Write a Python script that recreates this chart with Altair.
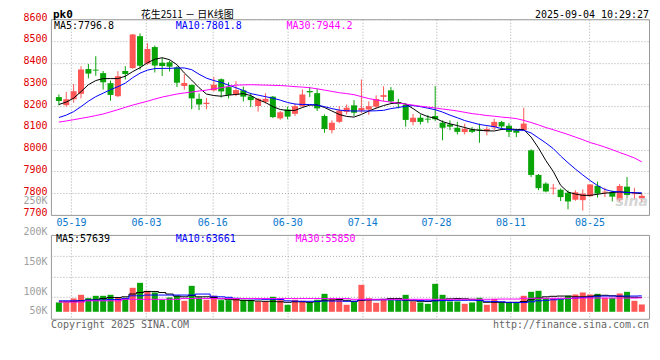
import altair as alt
import pandas as pd

# ---------------- data ----------------
# positions (in trading-day units) where the date grid lines sit in the picture
date_pos = [1.64, 11.8, 20.8, 30.96, 41.1, 51.1, 61.2, 71.9]
date_labels = ["05-19", "06-03", "06-16", "06-30", "07-14", "07-28", "08-11", "08-25"]

opens = [8242, 8205, 8232, 8257, 8371, 8368, 8352, 8306, 8246, 8362,
         8375, 8522, 8396, 8472, 8400, 8402, 8378, 8293, 8298, 8234,
         8210, 8273, 8324, 8288, 8254, 8273, 8245, 8201, 8220, 8244,
         8144, 8185, 8165, 8200, 8270, 8260, 8155, 8090, 8128, 8174,
         8204, 8180, 8185, 8198, 8243, 8273, 8219, 8207, 8127, 8147,
         8142, 8155, 8124, 8116, 8101, 8081, 8093, 8093, 8085, 8103,
         8127, 8110, 8090, 8090, 7997, 7884, 7844, 7822, 7816, 7802,
         7770, 7768, 7786, 7834, 7804, 7804, 7768, 7830, 7796, 7776]
highs = [8254, 8266, 8302, 8384, 8394, 8430, 8362, 8318, 8361, 8384,
         8532, 8535, 8490, 8479, 8422, 8410, 8384, 8348, 8300, 8258,
         8238, 8334, 8328, 8310, 8315, 8290, 8262, 8238, 8260, 8247,
         8178, 8198, 8212, 8277, 8289, 8280, 8162, 8135, 8200, 8208,
         8228, 8323, 8222, 8250, 8292, 8288, 8234, 8213, 8165, 8162,
         8160, 8292, 8135, 8135, 8128, 8120, 8104, 8120, 8107, 8142,
         8132, 8122, 8095, 8193, 8002, 7888, 7850, 7842, 7822, 7813,
         7814, 7818, 7842, 7853, 7825, 7813, 7842, 7874, 7825, 7796]
lows = [8204, 8198, 8216, 8236, 8328, 8340, 8277, 8225, 8242, 8323,
        8372, 8368, 8390, 8355, 8339, 8360, 8288, 8276, 8186, 8182,
        8186, 8268, 8240, 8236, 8246, 8222, 8196, 8175, 8212, 8145,
        8138, 8140, 8155, 8196, 8242, 8178, 8078, 8075, 8122, 8162,
        8155, 8168, 8160, 8190, 8223, 8214, 8190, 8106, 8112, 8116,
        8123, 8132, 8043, 8090, 8070, 8070, 8076, 8032, 8066, 8090,
        8090, 8058, 8058, 8086, 7874, 7814, 7804, 7794, 7764, 7726,
        7765, 7720, 7784, 7780, 7782, 7762, 7764, 7779, 7772, 7758]
closes = [8224, 8232, 8269, 8369, 8350, 8364, 8310, 8252, 8338, 8348,
          8530, 8386, 8463, 8387, 8385, 8382, 8308, 8307, 8236, 8208,
          8216, 8299, 8268, 8252, 8274, 8244, 8228, 8234, 8234, 8150,
          8172, 8152, 8200, 8254, 8264, 8190, 8095, 8124, 8180, 8193,
          8170, 8192, 8200, 8233, 8251, 8222, 8210, 8137, 8147, 8128,
          8139, 8140, 8101, 8106, 8082, 8096, 8082, 8088, 8095, 8128,
          8107, 8082, 8078, 8120, 7884, 7823, 7808, 7824, 7782, 7762,
          7804, 7798, 7840, 7798, 7806, 7784, 7833, 7792, 7799, 7788]
ma5 = [8208, 8219, 8237, 8267, 8299, 8318, 8327, 8327, 8327, 8338,
       8359, 8377, 8400, 8416, 8423, 8414, 8391, 8353, 8320, 8285,
       8256, 8249, 8246, 8251, 8254, 8258, 8249, 8230, 8217, 8198,
       8185, 8180, 8181, 8194, 8205, 8206, 8194, 8178, 8162, 8153,
       8150, 8162, 8178, 8191, 8203, 8212, 8216, 8210, 8189, 8166,
       8152, 8145, 8129, 8119, 8111, 8102, 8093, 8089, 8087, 8086,
       8093, 8095, 8093, 8093, 8058, 8008, 7950, 7900, 7836, 7805,
       7796, 7790, 7790, 7795, 7800, 7803, 7806, 7804, 7802, 7797]
ma10 = [8148, 8159, 8175, 8198, 8223, 8244, 8260, 8276, 8290, 8306,
        8331, 8352, 8366, 8373, 8374, 8374, 8376, 8376, 8368, 8347,
        8329, 8318, 8309, 8297, 8285, 8272, 8258, 8251, 8244, 8237,
        8228, 8217, 8210, 8208, 8208, 8205, 8198, 8189, 8182, 8179,
        8178, 8178, 8178, 8179, 8181, 8189, 8194, 8200, 8203, 8198,
        8191, 8184, 8173, 8159, 8147, 8134, 8125, 8116, 8111, 8106,
        8097, 8093, 8090, 8089, 8077, 8054, 8031, 8005, 7971, 7940,
        7911, 7884, 7858, 7835, 7817, 7808, 7806, 7803, 7802, 7802]
ma30 = [8127, 8132, 8138, 8144, 8150, 8157, 8164, 8174, 8184, 8195,
        8205, 8214, 8223, 8233, 8242, 8249, 8256, 8261, 8265, 8270,
        8274, 8280, 8285, 8291, 8297, 8298, 8299, 8298, 8297, 8296,
        8295, 8293, 8290, 8288, 8285, 8280, 8274, 8268, 8262, 8258,
        8253, 8244, 8235, 8229, 8223, 8219, 8214, 8210, 8205, 8200,
        8196, 8192, 8187, 8183, 8178, 8172, 8166, 8162, 8157, 8154,
        8150, 8147, 8143, 8135, 8125, 8114, 8102, 8092, 8081, 8070,
        8058, 8046, 8033, 8023, 8012, 8000, 7987, 7975, 7962, 7944]
volumes = [37300, 37300, 53300, 68000, 54700, 64000, 64000, 68000, 57300, 56000,
           96000, 116000, 84000, 77300, 48000, 57300, 64000, 44000, 104000, 57300,
           48000, 64000, 46700, 46700, 54700, 48000, 48000, 41300, 41300, 60000,
           46700, 28000, 48000, 44000, 37300, 48000, 72000, 50700, 48000, 28000,
           41300, 108000, 54700, 36000, 50700, 46700, 46700, 68000, 41300, 37300,
           32000, 112000, 68000, 41300, 41300, 32000, 37300, 56000, 28000, 52000,
           37300, 37300, 37300, 64000, 80000, 84000, 54700, 53300, 50700, 64000,
           69300, 77300, 69300, 72000, 56000, 54700, 73300, 80000, 44000, 29300]
vma5 = [40000, 40000, 41000, 44000, 47000, 48000, 53000, 57000, 57000, 60000,
        71000, 77000, 81000, 81000, 77000, 71000, 63000, 60000, 65000, 60000,
        60000, 57000, 52000, 50000, 48000, 46000, 45000, 43000, 42000, 42000,
        40000, 38000, 40000, 40000, 38000, 41000, 46000, 47000, 49000, 46000,
        42000, 46000, 48000, 48000, 50000, 53000, 53000, 47000, 44000, 42000,
        41000, 45000, 48000, 52000, 53000, 52000, 50000, 46000, 38000, 38000,
        38000, 37000, 38000, 41000, 48000, 55000, 60000, 62000, 63000, 63000,
        60000, 60000, 62000, 66000, 66000, 64000, 62000, 59000, 58000, 57639]
vma10 = [44000, 44000, 44000, 44000, 47000, 47000, 47000, 49000, 49000, 53000,
         64000, 64000, 67000, 67000, 67000, 67000, 67000, 67000, 67000, 71000,
         71000, 62000, 60000, 58000, 54000, 53000, 52000, 51000, 50000, 50000,
         49000, 44000, 43000, 42000, 42000, 42000, 43000, 43000, 43000, 42000,
         42000, 48000, 48000, 48000, 48000, 48000, 47000, 47000, 47000, 45000,
         44000, 44000, 45000, 45000, 46000, 46000, 46000, 45000, 42000, 41000,
         40000, 38000, 37000, 37000, 40000, 44000, 46000, 48000, 51000, 53000,
         55000, 57000, 59000, 62000, 63000, 63000, 63000, 63000, 63000, 63661]
vma30 = [39000, 39000, 39000, 39000, 44000, 44000, 44000, 44000, 44000, 50000,
         50000, 50000, 50000, 50000, 50000, 50000, 50000, 53000, 53000, 53000,
         53000, 53000, 53000, 53000, 53000, 53000, 53000, 53000, 53000, 53000,
         53000, 53000, 53000, 53000, 53000, 53000, 53000, 53000, 53000, 53000,
         50000, 50000, 50000, 50000, 50000, 50000, 50000, 50000, 50000, 50000,
         50000, 50000, 50000, 50000, 50000, 50000, 50000, 50000, 50000, 50000,
         51000, 51000, 51000, 54000, 54000, 54000, 54000, 54000, 54000, 54000,
         55000, 55000, 55000, 55000, 55000, 55000, 55000, 55000, 55000, 55850]

price_ticks = [8600, 8500, 8400, 8300, 8200, 8100, 8000, 7900, 7800, 7700]
price_ma_text = ["MA5:7796.8", "MA10:7801.8", "MA30:7944.2"]
vol_ma_text = ["MA5:57639", "MA10:63661", "MA30:55850"]
vol_label_vals = [4000, 82800, 200000, 308000]
vol_label_text = ["50K", "100K", "150K", "200K"]
vol_grid_vals = [59000, 141000, 224000]
stray_label_val = 7755          # the grey "250K" that sits in the price axis
title_code = "pk0"
title_name = "花生2511 －  日K线图"
timestamp = "2025-09-04 10:29:27"
copyright_text = "Copyright 2025 SINA.COM"
url_text = "http://finance.sina.com.cn"

# ---------------- styling ----------------
RED = "#ff5656"
GREEN = "#08a408"
MONO = "DejaVu Sans Mono"
BLUE_LBL = "#0a78cc"
W = 599

df = pd.DataFrame({
    "idx": list(range(len(opens))), "open": opens, "high": highs, "low": lows,
    "close": closes, "vol": volumes, "ma5": ma5, "ma10": ma10, "ma30": ma30,
    "vma5": vma5, "vma10": vma10, "vma30": vma30,
})
df["up"] = df["close"] >= df["open"]
lo = df[["open", "close"]].min(axis=1)
hi = df[["open", "close"]].max(axis=1)
mid = (lo + hi) / 2
thin = (hi - lo) < 4
df["blo"] = lo.where(~thin, mid - 2)
df["bhi"] = hi.where(~thin, mid + 2)

xscale = alt.Scale(domain=[-0.4, 79.3], nice=False, zero=False)
date_expr = "%s[indexof(%s, datum.value)]" % (
    "[" + ",".join("'%s'" % s for s in date_labels) + "]", str(date_pos))
color_cond = alt.condition("datum.up", alt.value(RED), alt.value(GREEN))

x_price_axis = alt.Axis(values=date_pos, labelExpr=date_expr, grid=True, ticks=False,
                        domain=False, labelColor=BLUE_LBL, labelFont=MONO,
                        labelFontSize=10, labelPadding=3, labelOverlap=False)
y_axis_price = alt.Axis(
    values=price_ticks + [stray_label_val],
    labelExpr="datum.value == %d ? '250K' : format(datum.value, 'd')" % stray_label_val,
    labelColor={"condition": {"test": "datum.value == %d" % stray_label_val, "value": "#a0a0a0"},
                "value": "#e00000"},
    gridOpacity={"condition": {"test": "datum.value == %d" % stray_label_val, "value": 0},
                 "value": 1},
    ticks=False, domain=False, labelFont=MONO, labelFontSize=10, labelPadding=4,
    labelOffset=-2, labelOverlap=False, labelBound=False)
yscale_price = alt.Scale(domain=[7700, 8600], nice=False, zero=False)


def XP():
    return alt.X("idx:Q", scale=xscale, axis=x_price_axis, title=None)


def YP(field):
    return alt.Y(field, scale=yscale_price, axis=y_axis_price, title=None)


base = alt.Chart(df)
wick = base.mark_rule(strokeWidth=1).encode(x=XP(), y=YP("low:Q"), y2="high:Q", color=color_cond)
body = base.mark_bar(size=6).encode(x=XP(), y=YP("blo:Q"), y2="bhi:Q", color=color_cond)
l5 = base.mark_line(color="black", strokeWidth=1).encode(x=XP(), y=YP("ma5:Q"))
l10 = base.mark_line(color="#0000ff", strokeWidth=1).encode(x=XP(), y=YP("ma10:Q"))
l30 = base.mark_line(color="#ff00ff", strokeWidth=1).encode(x=XP(), y=YP("ma30:Q"))


def label(text, x, y, color="black", size=10, font=MONO, align="left", weight="normal",
          style="normal", opacity=1.0, baseline="middle"):
    return alt.Chart(pd.DataFrame({"t": [text]})).mark_text(
        align=align, baseline=baseline, font=font, fontSize=size, fontWeight=weight,
        fontStyle=style, color=color, opacity=opacity
    ).encode(x=alt.value(x), y=alt.value(y), text="t:N")


ma_colors = ["black", "#0000ff", "#ff00ff"]
price_texts = [label(t, xx, 7, c) for t, xx, c in zip(price_ma_text, [3, 125, 236], ma_colors)]
header = [
    label(title_code, 2, -4.5, size=11, weight="bold"),
    label(title_name, 90, -4, size=10, font="Noto Sans CJK SC"),
    label(timestamp, W, -4.5, align="right"),
    label("sina", W - 1, 183, color="#cccccc", size=14, font="DejaVu Sans", weight="bold",
          style="italic", opacity=0.8, align="right"),
]

price = alt.layer(wick, body, l5, l10, l30, *price_texts, *header).properties(
    width=W, height=196)

# ---------------- volume panel ----------------
x_vol_axis = alt.Axis(values=date_pos, labels=False, grid=True, ticks=False, domain=False)
vol_axis = alt.Axis(
    values=vol_label_vals + vol_grid_vals,
    labelExpr="%s[indexof(%s, datum.value)] || ''" % (
        "[" + ",".join("'%s'" % s for s in vol_label_text) + "]", str(vol_label_vals)),
    labelBaseline={"condition": {"test": "datum.value == %d" % vol_label_vals[-1],
                                 "value": "alphabetic"}, "value": "middle"},
    gridOpacity={"condition": {"test": "indexof(%s, datum.value) >= 0" % str(vol_grid_vals),
                               "value": 1}, "value": 0},
    ticks=False, domain=False, labelColor="#a0a0a0", labelFont=MONO, labelFontSize=10,
    labelPadding=4, labelOverlap=False, labelBound=False)
yscale_vol = alt.Scale(domain=[-28000, 308000], nice=False, zero=False)


def XV():
    return alt.X("idx:Q", scale=xscale, axis=x_vol_axis, title=None)


def YV(field):
    return alt.Y(field, scale=yscale_vol, axis=vol_axis, title=None)


vbars = base.mark_bar(size=6).encode(x=XV(), y=YV("vol:Q"), y2=alt.datum(0), color=color_cond)
v5 = base.mark_line(color="black", strokeWidth=1, interpolate="step").encode(x=XV(), y=YV("vma5:Q"))
v10 = base.mark_line(color="#0000ff", strokeWidth=1, interpolate="step").encode(x=XV(), y=YV("vma10:Q"))
v30 = base.mark_line(color="#ff00ff", strokeWidth=1, interpolate="step").encode(x=XV(), y=YV("vma30:Q"))
vol_texts = [label(t, xx, 4.5, c) for t, xx, c in zip(vol_ma_text, [5, 125, 245], ma_colors)]
footer = [
    label(copyright_text, 0, 90, color="#666666"),
    label(url_text, W, 90, color="#666666", align="right"),
]
volume = alt.layer(vbars, v5, v10, v30, *vol_texts, *footer).properties(width=W, height=84)

chart = alt.vconcat(price, volume, spacing=20, bounds="flush").properties(
    padding={"left": 14, "top": 0, "right": 2, "bottom": 2},
    background="white",
).configure_view(stroke="#999999", strokeWidth=1).configure_axis(
    gridColor="#aaaaaa", gridDash=[1, 2], gridWidth=1, labelOverlap=False)

chart.save("out.html", embed_options={"renderer": "svg", "actions": False})
